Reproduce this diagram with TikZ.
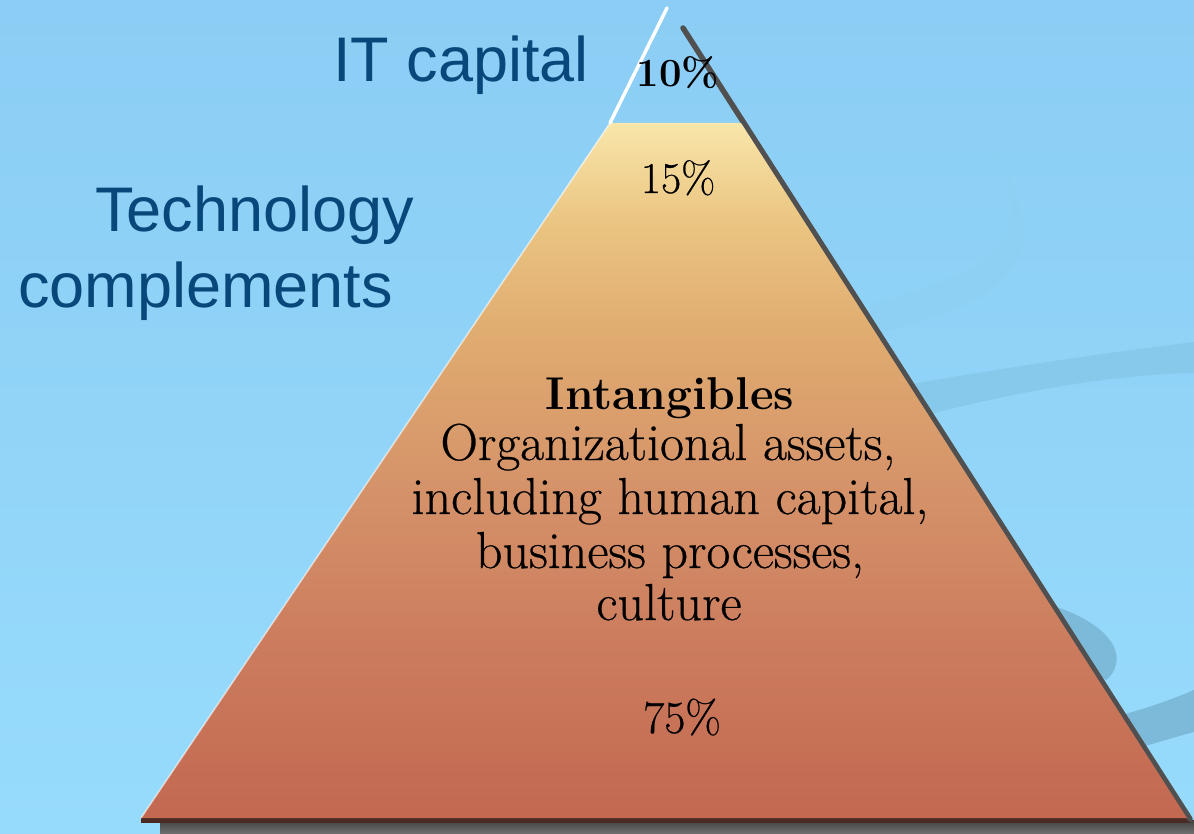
\documentclass[tikz,border=0pt]{standalone}
\usepackage{fontspec}
\newfontfamily\sidefont{Liberation Sans}
\newfontfamily\pyrfont[FakeBold=0.5]{Latin Modern Roman}
\usepackage{tikz}
\usetikzlibrary{calc}

\definecolor{bgtop}{HTML}{8BCDF4}
\definecolor{bgbot}{HTML}{97DBFC}
\definecolor{swirlA}{HTML}{8DD0F3}
\definecolor{swirlB}{HTML}{87C9EA}
\definecolor{swirlC}{HTML}{7DB9D9}
\definecolor{sideblue}{HTML}{07477A}
\definecolor{edgegray}{HTML}{505050}
\definecolor{basebrown}{HTML}{4A2A22}
\definecolor{pyrA}{HTML}{F8E6AA}
\definecolor{pyrB}{HTML}{EBC582}
\definecolor{pyrC}{HTML}{E0AC70}
\definecolor{pyrD}{HTML}{D6956A}
\definecolor{pyrE}{HTML}{CC7D5E}
\definecolor{pyrF}{HTML}{C36851}

% pyramid colours, light at the top, brick red at the base
\pgfdeclareverticalshading{pyramidfill}{100bp}{color(0bp)=(pyrF); color(25bp)=(pyrF);
  color(38bp)=(pyrE); color(50bp)=(pyrD); color(60bp)=(pyrC); color(68bp)=(pyrB);
  color(75bp)=(pyrA); color(100bp)=(pyrA)}

\begin{document}
\begin{tikzpicture}[x=1pt,y=-1pt,
    sidelabel/.style={font=\sidefont\fontsize{63}{76}\selectfont, text=sideblue, anchor=base west, inner sep=0pt},
    pyrline/.style={font=\pyrfont\fontsize{52}{53}\selectfont, anchor=base, inner sep=0pt},
    pctlabel/.style={font=\pyrfont\fontsize{44}{50}\selectfont, anchor=base, inner sep=0pt}]
        % picture in pixel units, y grows downwards
        % apex cut at y=123 (10% part is left open)
        % base at y=818, from x=141 to x=1187

        \useasboundingbox (0,0) rectangle (1194,834);
        \clip (0,0) rectangle (1194,834);

        \coordinate (tipL) at (667,8);
        \coordinate (tipR) at (683,28);
        \coordinate (topL) at (610,123);
        \coordinate (topR) at (741,123);
        \coordinate (baseL) at (141,818);
        \coordinate (baseR) at (1187,818);
        \coordinate (edgeEnd) at (1190,819);

        % Фон
        \fill[top color=bgtop, bottom color=bgbot] (0,0) rectangle (1194,834);

        % Завитки на фоні
        \fill[swirlA] (996,153) .. controls (1015,180) and (1024,210) .. (1022,240)
            .. controls (1018,280) and (980,300) .. (945,313)
            .. controls (920,322) and (895,330) .. (870,335) -- (870,305)
            .. controls (920,290) and (990,270) .. (1007,235)
            .. controls (1015,210) and (1012,180) .. (999,153) -- cycle;
        \fill[swirlB] (900,386) .. controls (980,372) and (1080,356) .. (1194,342)
            -- (1194,373) .. controls (1100,375) and (1000,395) .. (900,422) -- cycle;
        \fill[swirlC] (1050,605) .. controls (1085,615) and (1122,638) .. (1116,664)
            .. controls (1114,672) and (1111,676) .. (1106,680) -- (1060,650) -- cycle;
        \fill[swirlC] (1110,718) .. controls (1150,708) and (1175,698) .. (1194,690)
            -- (1194,732) .. controls (1175,737) and (1160,742) .. (1130,750) -- cycle;

        % Тінь під основою
        \fill[top color=black!75, bottom color=black!55] (160,820) rectangle (1194,834);
        \fill[basebrown] ($(baseL)+(0,-1)$) rectangle ($(edgeEnd)+(0,4)$);

        % Права темна грань
        \draw[edgegray, line width=5.5pt, line cap=round] (tipR) -- (edgeEnd);

        % Піраміда
        \shade[shading=pyramidfill] (topL) -- (topR) -- (baseR) -- (baseL) -- cycle;

        % Світла ліва грань
        \draw[white, line width=3.5pt, line cap=round] (tipL) -- (topL);
        \draw[white, opacity=0.6, line width=1.5pt] (topL) -- (baseL);

        % Підписи зліва
        \node[sidelabel] (itcap) at (333,82) {IT capital};
        \node[sidelabel] (techcomp) at (95,232) {Technology};
        \node[sidelabel] (techcompB) at (18,308) {complements};

        % Відсотки
        \node[pctlabel, font=\bfseries\fontsize{40}{50}\selectfont] (pct10) at (678,87) {10\%};
        \node[pctlabel] (pct15) at (678,193) {15\%};
        \node[pctlabel, font=\pyrfont\fontsize{46}{50}\selectfont] (pct75) at (682,733) {75\%};

        % Нематеріальні активи
        \node[pyrline, font=\bfseries\fontsize{46}{53}\selectfont] (intang) at (670,409) {Intangibles};
        \node[pyrline] (orgA) at (668,460) {Organizational assets,};
        \node[pyrline] (orgB) at (670,514) {including human capital,};
        \node[pyrline] (orgC) at (670,568) {business processes,};
        \node[pyrline] (orgD) at (669,620) {culture};
    \end{tikzpicture}
\end{document}
